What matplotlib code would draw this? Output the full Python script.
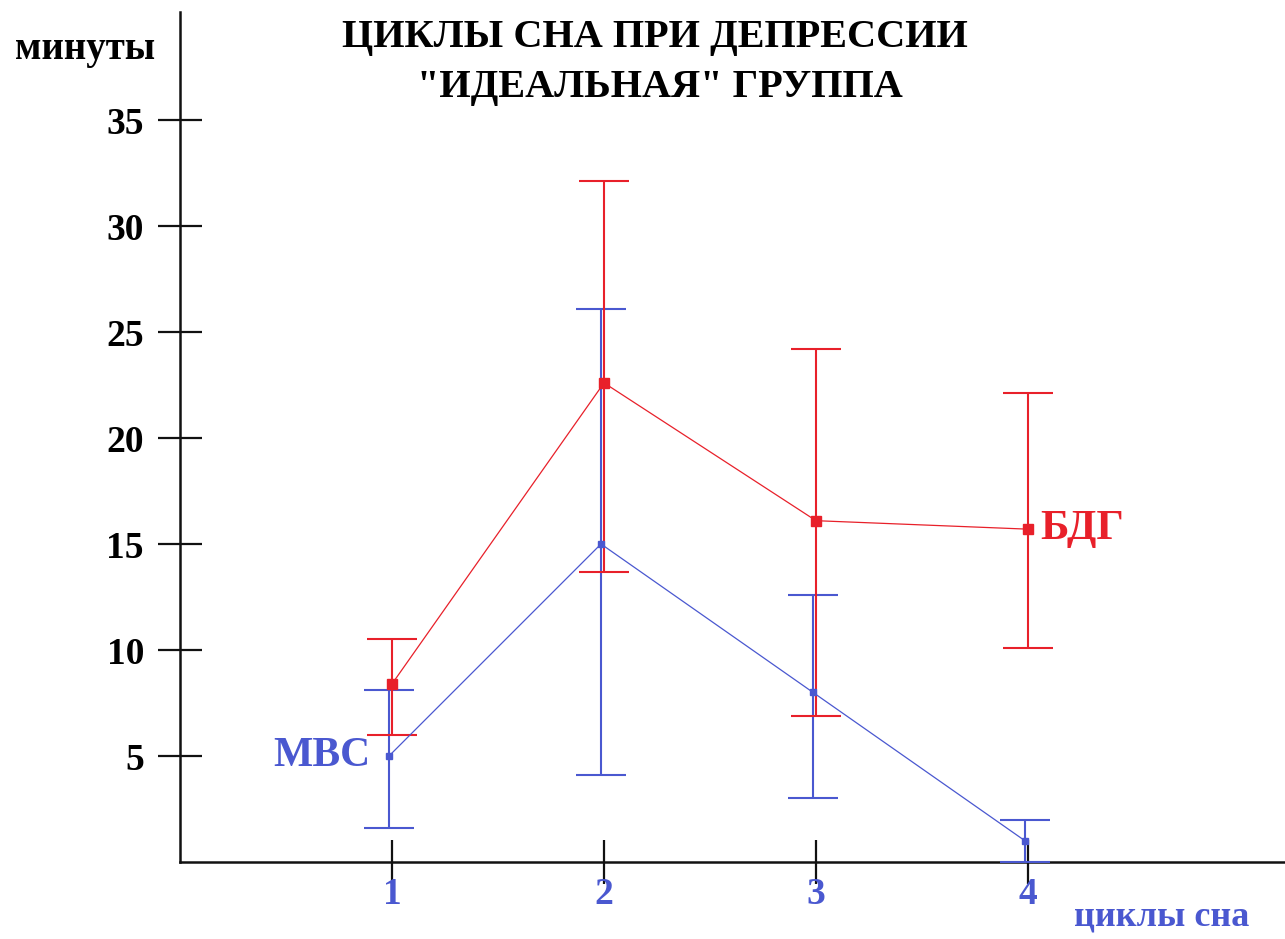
import matplotlib.pyplot as plt
import matplotlib.transforms as mtransforms

plt.rcParams['font.family'] = ['Liberation Serif', 'DejaVu Serif']
plt.rcParams['font.weight'] = 'bold'

cycles = [1, 2, 3, 4]

# БДГ (red)
bdg_mean = [8.4, 22.6, 16.1, 15.7]
bdg_low = [6.0, 13.7, 6.9, 10.1]
bdg_high = [10.5, 32.1, 24.2, 22.1]

# МВС (blue)
mvs_mean = [5.0, 15.0, 8.0, 1.0]
mvs_low = [1.6, 4.1, 3.0, 0.0]
mvs_high = [8.1, 26.1, 12.6, 2.0]

yticks = [5, 10, 15, 20, 25, 30, 35]

RED = '#e8202a'
BLUE = '#4a58d0'

fig = plt.figure(figsize=(12.85, 9.39), dpi=100)
ax = fig.add_axes([180 / 1285, 77 / 939, 1105 / 1285, 850 / 939])

ax.set_xlim(0, 1105 / 212)
ax.set_ylim(0, 850 / 21.2)

# blue series sits a few pixels left of the red one
shift = mtransforms.ScaledTranslation(-3 / 100, 0, fig.dpi_scale_trans)

def series(mean, low, high, color, ms, trans):
    yerr = [[m - l for m, l in zip(mean, low)], [h - m for m, h in zip(mean, high)]]
    ax.errorbar(cycles, mean, yerr=yerr, color=color, lw=0.9, marker='s',
                ms=ms, elinewidth=1.5, capsize=18, capthick=1.5,
                transform=trans, zorder=3)

series(mvs_mean, mvs_low, mvs_high, BLUE, 4.5, ax.transData + shift)
series(bdg_mean, bdg_low, bdg_high, RED, 7, ax.transData)

for s in ['top', 'right']:
    ax.spines[s].set_visible(False)
for s in ['left', 'bottom']:
    ax.spines[s].set_linewidth(1.8)
    ax.spines[s].set_color('#111111')

ax.set_yticks(yticks)
ax.set_yticklabels([str(v) for v in yticks], fontsize=27, fontweight='bold')
ax.set_xticks(cycles)
ax.set_xticklabels([str(v) for v in cycles], fontsize=27, fontweight='bold',
                   color=BLUE)
ax.tick_params(axis='y', direction='inout', length=32, width=1.6, pad=10,
               color='#111111')
ax.tick_params(axis='x', direction='inout', length=32, width=1.6, pad=-5,
               color='#111111')

fig.text(85 / 1285, 1 - 50 / 939, 'минуты', fontsize=28, fontweight='bold',
         ha='center', va='center')
fig.text(1162 / 1285, 1 - 917 / 939, 'циклы сна', fontsize=26,
         fontweight='bold', color=BLUE, ha='center', va='center')

fig.text(655 / 1285, 1 - 38 / 939, 'ЦИКЛЫ СНА ПРИ ДЕПРЕССИИ', fontsize=29,
         fontweight='bold', ha='center', va='center')
fig.text(660 / 1285, 1 - 88 / 939, '"ИДЕАЛЬНАЯ" ГРУППА', fontsize=29,
         fontweight='bold', ha='center', va='center')

ax.annotate('МВС', (1, mvs_mean[0]), xytext=(-22, 0), textcoords='offset pixels',
            fontsize=30, fontweight='bold', color=BLUE, ha='right', va='center')
ax.annotate('БДГ', (4, bdg_mean[3]), xytext=(12, 0), textcoords='offset pixels',
            fontsize=31, fontweight='bold', color=RED, ha='left', va='center')

fig.savefig('out.png', dpi=100)
